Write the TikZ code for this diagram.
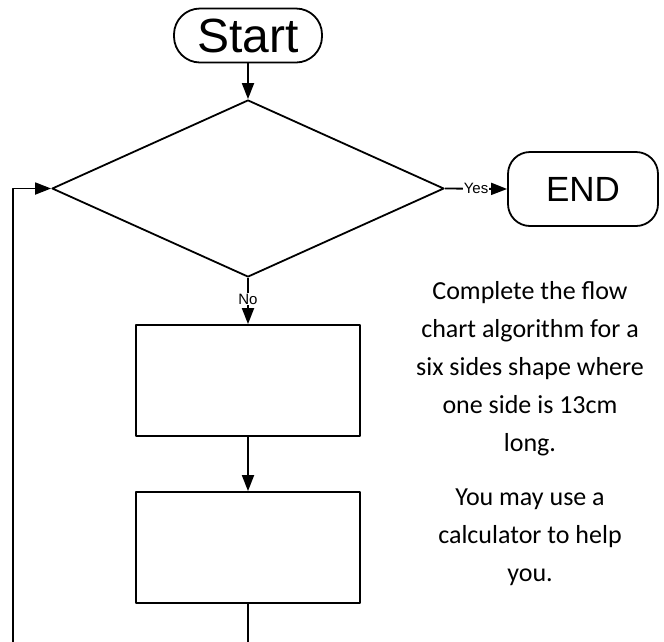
\documentclass[tikz,border=0pt]{standalone}
\usepackage{fontspec}
\setmainfont{Carlito}
\newfontfamily\arialfont{Liberation Sans}
\usetikzlibrary{shapes.geometric,arrows.meta,positioning}

\begin{document}
\begin{tikzpicture}[x=1pt, y=-1pt, line join=round, >={Triangle[length=16pt,width=12pt]}]

		\tikzset{terminal/.style={draw, line width=1.8pt, rounded corners=22pt, inner sep=0pt},
			box/.style={draw, line width=1.8pt, minimum width=224pt, minimum height=111pt, inner sep=0pt},
			flow/.style={->, line width=1.8pt},
			tag/.style={fill=white, inner sep=1pt, font=\arialfont\fontsize{15}{15}\selectfont},
			note/.style={align=center, inner sep=0pt, font=\fontsize{26}{38}\selectfont}}

		\clip (0,0) rectangle (664,641);
		\node[terminal, rounded corners=26pt, minimum width=148pt, minimum height=54pt, font=\arialfont\fontsize{48}{48}\selectfont] (start) at (248,35.5) {Start};
		\node[draw, diamond, line width=1.8pt, minimum width=392pt, minimum height=177pt, inner sep=0pt] (test) at (248,188.5) {};
		\node[terminal, minimum width=150pt, minimum height=74pt, font=\arialfont\fontsize{35}{35}\selectfont] (end) at (583,189) {END};
		\node[box] (step1) at (248,380.5) {};
		\node[box] (step2) at (248,547.5) {};
		\coordinate (loop) at (13,670);

		\draw[flow] (start) -- (test);
		\draw[flow] (test.east) -- node[tag] {Yes} (end.west);
		\draw[flow] (test.south) -- node[tag, pos=.46] {No} (step1.north);
		\draw[flow] (step1) -- (step2);
		\draw[flow] (step2.south) |- (loop) |- (test.west);

		\node[note, anchor=north] (task) at (530,281) {Complete the flow\\chart algorithm for a\\six sides shape where\\one side is 13cm\\long.};
		\node[note, below=33pt of task] (hint) {You may use a\\calculator to help\\you.};
		\end{tikzpicture}
\end{document}
